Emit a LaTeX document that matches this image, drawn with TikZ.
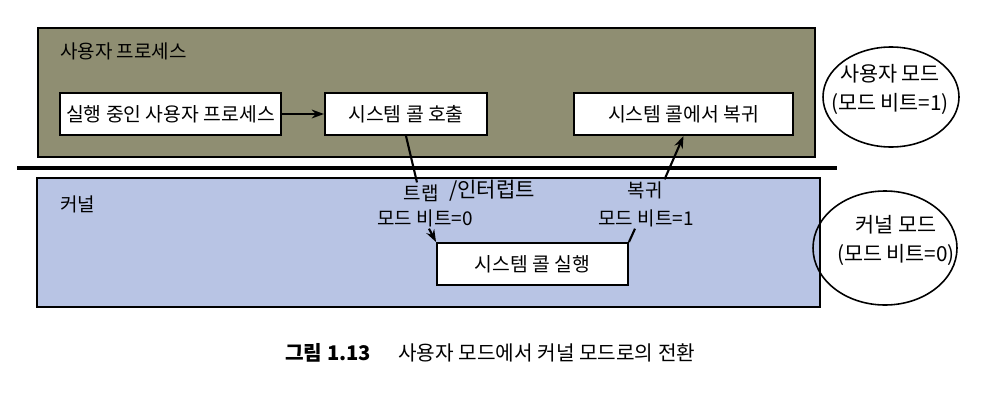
\documentclass[tikz,border=0pt]{standalone}
\usepackage{fontspec}
\setmainfont{Noto Sans CJK KR}
\usetikzlibrary{arrows.meta, positioning, calc}
\usepackage{xcolor}
\definecolor{useroliv}{RGB}{143,142,114}
\definecolor{kernblue}{RGB}{184,196,228}
\def\boxh{0.84cm}

\begin{document}
\begin{tikzpicture}[x=0.02cm, y=-0.02cm, >={Stealth[length=7pt,width=5pt]}]
    \tikzstyle{zone}=[draw=black, line width=1.1pt]
    \tikzstyle{stage}=[draw=black, fill=white, line width=1.1pt, minimum height=\boxh, inner sep=0pt, font=\fontsize{11}{13}\selectfont]
    \tikzstyle{tag}=[inner sep=1pt, font=\fontsize{10.8}{12}\selectfont]
    \tikzstyle{flow}=[->, line width=1.2pt]
    \tikzstyle{link}=[line width=1.2pt]
    \tikzstyle{mode}=[align=center, inner sep=0pt, font=\fontsize{11.8}{16.5}\selectfont]
    \tikzstyle{ring}=[line width=0.9pt]

    \useasboundingbox (0,0) rectangle (997,406);

    % user and kernel zones
    \draw[zone, fill=useroliv] (38,28) rectangle (815,157);
    \draw[zone, fill=kernblue] (37,178) rectangle (820,307);
    \draw[line width=2pt] (17,168) -- (837,168);
    \node[tag, anchor=west] (userlbl) at (58,51) {사용자 프로세스};
    \node[tag, anchor=west] (kernlbl) at (58,204) {커널};

    % steps
    \node[stage, minimum width=4.42cm] (run) at (170.5,114) {실행 중인 사용자 프로세스};
    \node[stage, minimum width=3.24cm] (call) at (406,114) {시스템 콜 호출};
    \node[stage, minimum width=4.38cm] (ret) at (683.5,114) {시스템 콜에서 복귀};
    \node[stage, minimum width=3.82cm] (exec) at (532.5,264) {시스템 콜 실행};

    % transition labels
    \node[tag] (trap) at (421,193) {트랩};
    \node[tag, font=\fontsize{12}{14}\selectfont] (intr) at (492,191) {/인터럽트};
    \node[tag] (bit0) at (425,218) {모드 비트=0};
    \node[tag] (back) at (645,190) {복귀};
    \node[tag] (bit1) at (646,218) {모드 비트=1};

    \draw[flow] (run) -- (call);
    \draw[link] (call.south) -- ($(trap.north)+(-4,0)$);
    \draw[flow] ($(bit0.south)+(4,0)$) -- (exec.north west);
    \draw[link] (exec.north east) -- ($(bit1.south)+(-11,0)$);
    \draw[flow] (back.north east) -- (ret.south);

    % mode rings
    \draw[ring] (891,97) ellipse (68 and 50);
    \node[mode] (usermode) at (890,89.5) {사용자 모드\\(모드 비트=1)};
    \draw[ring] (885,248) ellipse (72 and 57);
    \node[mode] (kernmode) at (896,240) {커널 모드\\(모드 비트=0)};

    % caption
    \node[anchor=west, inner sep=0pt, font=\fontsize{11.5}{14}\selectfont\bfseries] (fig) at (285,353) {그림 1.13};
    \node[anchor=west, inner sep=0pt, font=\fontsize{11.5}{14}\selectfont] (title) at (398,353) {사용자 모드에서 커널 모드로의 전환};
\end{tikzpicture}
\end{document}
